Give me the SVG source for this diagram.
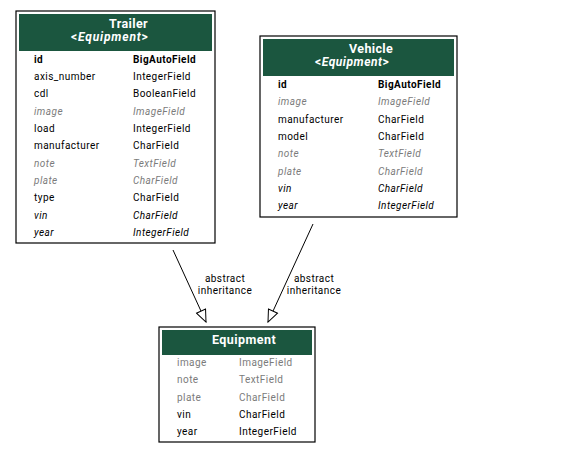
<svg xmlns="http://www.w3.org/2000/svg" width="569" height="455" viewBox="0 0 569 455">
<defs>
<style>
text{font-family:Roboto,"Liberation Sans",sans-serif;font-size:10px;fill:#000;letter-spacing:0.45px}
.box{fill:#fff;stroke:#000;stroke-width:1.2}
.hdr{fill:#1b563f}
.title{fill:#fff;font-weight:bold;font-size:12.5px;letter-spacing:0.3px}
.sub{fill:#fff;font-weight:bold;font-size:12px;letter-spacing:0.2px}
.b{font-weight:bold}
.i{font-style:italic}
.g{fill:#7b7b7b}
.edge{stroke:#000;stroke-width:1;fill:none}
.lbl{text-anchor:middle;font-size:10px}
</style>
<marker id="tri" markerWidth="14" markerHeight="12" refX="13" refY="6" orient="auto" markerUnits="userSpaceOnUse">
<path d="M1,1 L13,6 L1,11 Z" fill="#fff" stroke="#000" stroke-width="1"/>
</marker>
</defs>
<rect width="569" height="455" fill="#fff"/>
<g id="connectors">
<line class="edge" x1="173" y1="250" x2="206" y2="322" marker-end="url(#tri)"/>
<text class="lbl" x="225" y="282">abstract</text>
<text class="lbl" x="225" y="294">inheritance</text>
<line class="edge" x1="313" y1="224" x2="268" y2="322" marker-end="url(#tri)"/>
<text class="lbl" x="314" y="282">abstract</text>
<text class="lbl" x="314" y="294">inheritance</text>
</g>
<g id="Trailer">
<rect class="box" x="16" y="11" width="199" height="232"/>
<rect class="hdr" x="19" y="14" width="193" height="37"/>
<text class="title" x="109" y="28" textLength="39">Trailer</text>
<text class="sub" x="71" y="41" textLength="77">&lt;<tspan class="i">Equipment</tspan>&gt;</text>
<text class="b" x="34" y="63">id</text><text class="b" x="133" y="63">BigAutoField</text>
<text x="34" y="80">axis_number</text><text x="133" y="80">IntegerField</text>
<text x="34" y="97">cdl</text><text x="133" y="97">BooleanField</text>
<text class="i g" x="34" y="115">image</text><text class="i g" x="133" y="115">ImageField</text>
<text x="34" y="132">load</text><text x="133" y="132">IntegerField</text>
<text x="34" y="149">manufacturer</text><text x="133" y="149">CharField</text>
<text class="i g" x="34" y="167">note</text><text class="i g" x="133" y="167">TextField</text>
<text class="i g" x="34" y="184">plate</text><text class="i g" x="133" y="184">CharField</text>
<text x="34" y="201">type</text><text x="133" y="201">CharField</text>
<text class="i" x="34" y="219">vin</text><text class="i" x="133" y="219">CharField</text>
<text class="i" x="34" y="236">year</text><text class="i" x="133" y="236">IntegerField</text>
</g>
<g id="Vehicle">
<rect class="box" x="260" y="36" width="197" height="181"/>
<rect class="hdr" x="263" y="39" width="191" height="37"/>
<text class="title" x="349" y="53" textLength="44">Vehicle</text>
<text class="sub" x="315" y="66" textLength="74">&lt;<tspan class="i">Equipment</tspan>&gt;</text>
<text class="b" x="278" y="88">id</text><text class="b" x="378" y="88">BigAutoField</text>
<text class="i g" x="278" y="105">image</text><text class="i g" x="378" y="105">ImageField</text>
<text x="278" y="123">manufacturer</text><text x="378" y="123">CharField</text>
<text x="278" y="140">model</text><text x="378" y="140">CharField</text>
<text class="i g" x="278" y="157">note</text><text class="i g" x="378" y="157">TextField</text>
<text class="i g" x="278" y="175">plate</text><text class="i g" x="378" y="175">CharField</text>
<text class="i" x="278" y="192">vin</text><text class="i" x="378" y="192">CharField</text>
<text class="i" x="278" y="209">year</text><text class="i" x="378" y="209">IntegerField</text>
</g>
<g id="Equipment">
<rect class="box" x="159" y="327" width="156" height="115"/>
<rect class="hdr" x="162" y="330" width="150" height="25"/>
<text class="title" x="212" y="344" textLength="64">Equipment</text>
<text class="g" x="177" y="366">image</text><text class="g" x="239" y="366">ImageField</text>
<text class="g" x="177" y="383">note</text><text class="g" x="239" y="383">TextField</text>
<text class="g" x="177" y="401">plate</text><text class="g" x="239" y="401">CharField</text>
<text x="177" y="418">vin</text><text x="239" y="418">CharField</text>
<text x="177" y="435">year</text><text x="239" y="435">IntegerField</text>
</g>
</svg>
